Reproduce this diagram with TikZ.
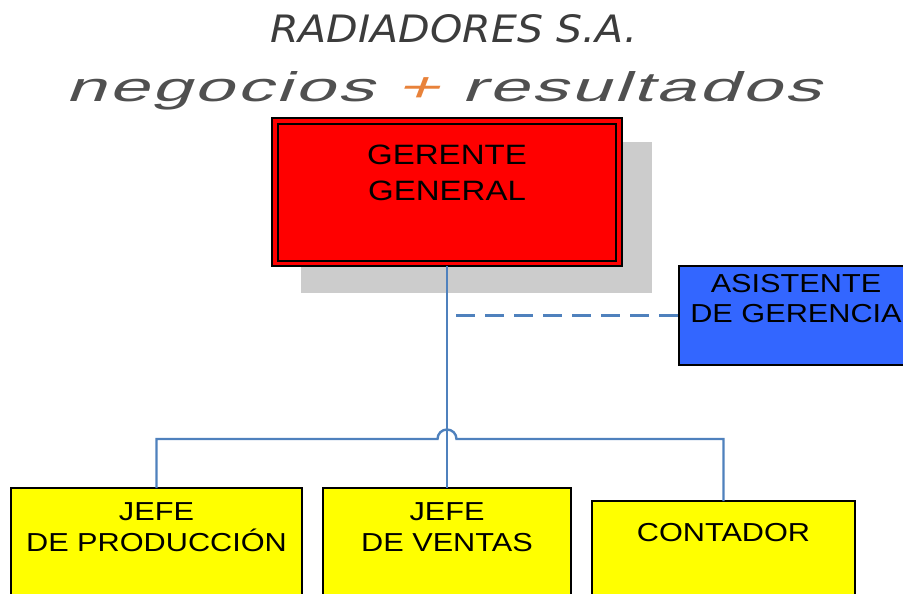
\documentclass[tikz,border=0pt]{standalone}
\usepackage{fontspec}
\usepackage{graphicx}
\setmainfont{Liberation Sans}
\newfontfamily\logofont[FakeSlant=0.22,LetterSpace=4]{Liberation Sans}
\newfontfamily\titlefont{DejaVu Sans}
\definecolor{conncolor}{HTML}{4F81BD}
\definecolor{shadowgray}{HTML}{CCCCCC}
\definecolor{gred}{HTML}{FF0000}
\definecolor{ablue}{HTML}{3366FF}
\definecolor{jyellow}{HTML}{FFFF00}
\definecolor{logogray}{HTML}{505050}
\definecolor{plusorange}{HTML}{E8823A}
\definecolor{titlegray}{HTML}{3C3C3C}
\newcommand\wx[1]{\scalebox{1.18}[1]{#1}}
\begin{document}
\begin{tikzpicture}[x=1pt,y=-1pt,
  box/.style={draw=black, line width=2.2pt, inner sep=0pt, outer sep=0pt, anchor=north west},
  boxtext/.style={inner sep=0pt, anchor=north, align=center, font=\fontsize{26}{31}\selectfont},
  conn/.style={draw=conncolor, line width=2.4pt}]
\useasboundingbox (0,0) rectangle (903,594);
\clip (0,0) rectangle (903,594);
% header
\node[inner sep=0pt, anchor=base west, text=titlegray] (title) at (270,43)
  {\resizebox{367pt}{28pt}{\titlefont\itshape RADIADORES S.A.}};
\node[inner sep=0pt, anchor=base west, text=logogray] (logo) at (65,101)
  {\resizebox{755pt}{30pt}{\logofont negocios {\color{plusorange}+} resultados}};
% gerente
\fill[shadowgray] (301,142) rectangle (652,293);
\node[box, line width=2.6pt, fill=gred, minimum width=350pt, minimum height=148pt] (ger) at (272,118) {};
\draw[black, line width=2pt] ([shift={(6,6)}]ger.north west) rectangle ([shift={(-6,-5)}]ger.south east);
\node[boxtext, font=\fontsize{28}{36}\selectfont] (gertext) at (447,145) {\wx{GERENTE}\\\wx{GENERAL}};
% asistente
\node[box, fill=ablue, minimum width=240pt, minimum height=99pt] (asis) at (679,266) {};
\node[boxtext, font=\fontsize{26}{30}\selectfont] (asistext) at (796,274) {\wx{ASISTENTE}\\\wx{DE GERENCIA}};
% bottom boxes
\node[box, fill=jyellow, minimum width=291pt, minimum height=130pt] (prod) at (11,488) {};
\node[box, fill=jyellow, minimum width=248pt, minimum height=130pt] (ventas) at (323,488) {};
\node[box, fill=jyellow, minimum width=263pt, minimum height=130pt] (cont) at (592,501) {};
\node[boxtext] (prodtext) at (156.5,502.5) {\wx{JEFE}\\\wx{DE PRODUCCIÓN}};
\node[boxtext] (ventastext) at (447,502.5) {\wx{JEFE}\\\wx{DE VENTAS}};
\node[boxtext] (conttext) at (723.5,523.5) {\wx{CONTADOR}};
% connectors
\coordinate (hopL) at (437.5,439);
\coordinate (hopR) at (456.5,439);
\coordinate (dstart) at (456,315.5);
\draw[conn] (ger.south) -- (ventas.north);
\draw[conn] (prod.north) |- (hopL) arc[start angle=180, end angle=360, radius=9.5] -- (hopR) -| (cont.north);
\draw[conn, dash pattern=on 19pt off 10pt] (dstart) -- (asis.west);
\end{tikzpicture}
\end{document}
